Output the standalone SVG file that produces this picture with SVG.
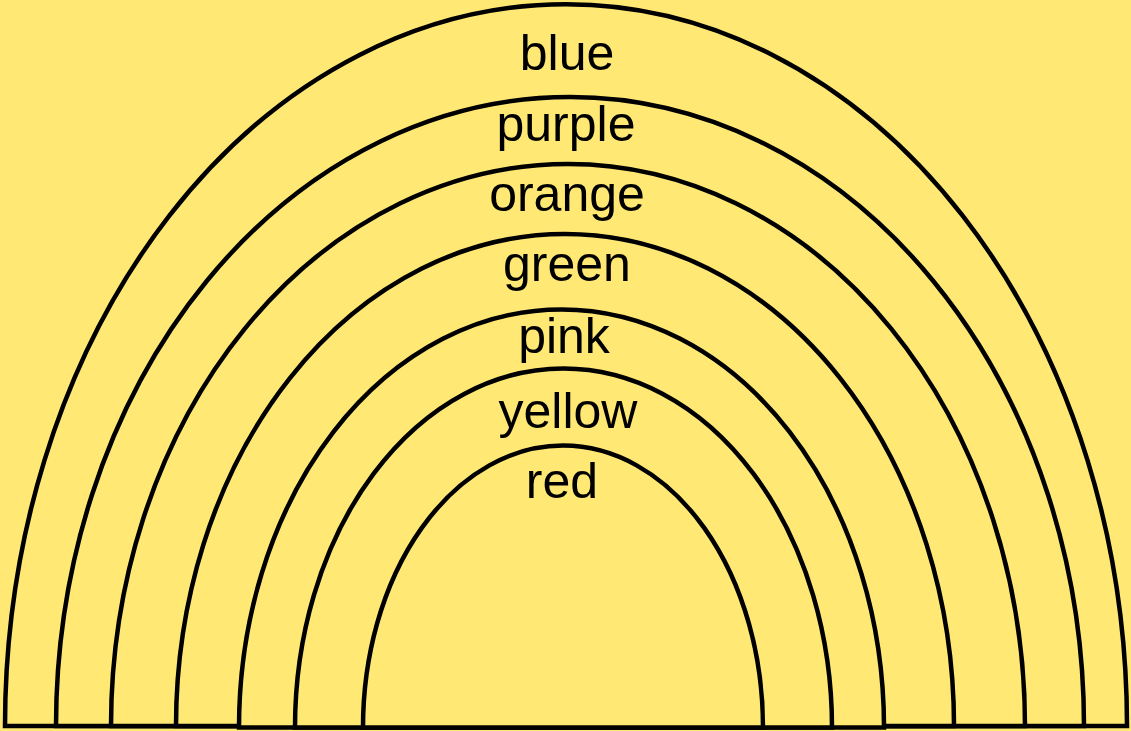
<svg xmlns="http://www.w3.org/2000/svg" width="1131" height="731" viewBox="0 0 1131 731">
  <style>
    .arch { fill: #FFE873; stroke: #000; stroke-width: 4.5; stroke-linejoin: miter; }
    .lbl { font-family: "Liberation Sans", Arial, sans-serif; font-size: 50px; fill: #000; text-anchor: middle; }
  </style>
  <rect x="0" y="0" width="1131" height="731" fill="#FFE873"/>
  <g id="band-blue">
    <path class="arch" d="M 5 726 A 561 722 0 0 1 1127 726 Z"/>
    <text class="lbl" x="567" y="70">blue</text>
  </g>
  <g id="band-purple">
    <path class="arch" d="M 56 726 A 514 629 0 0 1 1084 726 Z"/>
    <text class="lbl" x="566" y="141">purple</text>
  </g>
  <g id="band-orange">
    <path class="arch" d="M 111 726 A 457 562 0 0 1 1025 726 Z"/>
    <text class="lbl" x="567" y="211">orange</text>
  </g>
  <g id="band-green">
    <path class="arch" d="M 176 726 A 389 492 0 0 1 954 726 Z"/>
    <text class="lbl" x="567" y="281">green</text>
  </g>
  <g id="band-pink">
    <path class="arch" d="M 239 727.5 A 322.5 418 0 0 1 884 727.5 Z"/>
    <text class="lbl" x="564" y="353">pink</text>
  </g>
  <g id="band-yellow">
    <path class="arch" d="M 295 727.5 A 268.5 359 0 0 1 832 727.5 Z"/>
    <text class="lbl" x="568" y="428">yellow</text>
  </g>
  <g id="band-red">
    <path class="arch" d="M 363 727.5 A 200 282 0 0 1 763 727.5 Z"/>
    <text class="lbl" x="562" y="498">red</text>
  </g>
  <g id="connectors"></g>
</svg>
